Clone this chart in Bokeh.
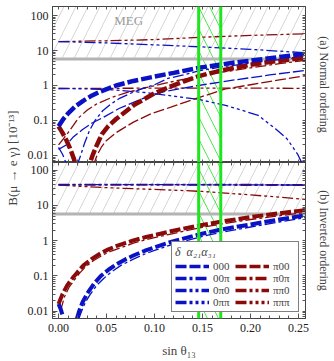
from math import pi
from bokeh.plotting import figure
from bokeh.layouts import row, column
from bokeh.models import (FixedTicker, CustomJSTickFormatter, LogAxis, LinearAxis,
                          BoxAnnotation, Span, Label, Legend, LegendItem, Range1d)
from bokeh.embed import file_html
from bokeh.resources import INLINE

# ---------------- data ----------------
x_ticks = [0.0, 0.05, 0.10, 0.15, 0.20, 0.25]
y_ticks = [0.01, 0.1, 1, 10, 100]
meg_bound = 5.7                 # MEG upper limit, 10^-13
s13_band = [0.146, 0.169]       # allowed sin(theta13) band

# Panel (a): normal ordering
a_000_x = [0.0, 0.005, 0.01, 0.018, 0.026, 0.035, 0.044, 0.06, 0.078, 0.1, 0.12, 0.146, 0.18, 0.22, 0.257]
a_000_y = [0.068, 0.11, 0.16, 0.26, 0.37, 0.52, 0.68, 1.0, 1.35, 1.8, 2.3, 3.2, 4.4, 6.0, 8.0]
a_p00_x1 = [0.0, 0.004, 0.008, 0.012, 0.016, 0.019]
a_p00_y1 = [0.068, 0.045, 0.028, 0.016, 0.008, 0.004]
a_p00_x2 = [0.03, 0.033, 0.036, 0.04, 0.045, 0.052, 0.06, 0.07, 0.078, 0.09, 0.1, 0.114, 0.13, 0.146, 0.165, 0.181, 0.2, 0.22, 0.257]
a_p00_y2 = [0.003, 0.0065, 0.011, 0.02, 0.04, 0.07, 0.11, 0.18, 0.27, 0.42, 0.6, 0.87, 1.3, 1.85, 2.5, 3.1, 3.9, 4.7, 6.2]
a_00p_x1 = [0.0, 0.004, 0.008]
a_00p_y1 = [0.017, 0.011, 0.006]
a_00p_x2 = [0.019, 0.023, 0.027, 0.032, 0.038, 0.046, 0.055, 0.063, 0.075, 0.0875, 0.1, 0.114, 0.13, 0.146, 0.17, 0.2, 0.23, 0.257]
a_00p_y2 = [0.005, 0.01, 0.022, 0.05, 0.1, 0.19, 0.3, 0.42, 0.6, 0.82, 1.05, 1.6, 2.0, 2.6, 3.4, 4.4, 5.5, 6.6]
a_p0p_x = [0.0, 0.005, 0.01, 0.015, 0.021, 0.03, 0.04, 0.055, 0.07, 0.09, 0.11, 0.13, 0.146, 0.17, 0.2, 0.23, 0.257]
a_p0p_y = [0.02, 0.03, 0.045, 0.07, 0.12, 0.2, 0.3, 0.45, 0.62, 0.85, 1.15, 1.5, 1.8, 2.4, 3.2, 4.2, 5.2]
a_0p0_x = [0.0, 0.05, 0.1, 0.146, 0.2, 0.257]
a_0p0_y = [18, 16.5, 14.5, 12.8, 10.8, 8.6]
a_pp0_x = [0.0, 0.05, 0.1, 0.15, 0.2, 0.257]
a_pp0_y = [18, 19, 20.5, 24, 27, 30]
a_0pp_x = [0.0, 0.03, 0.06, 0.09, 0.114, 0.146, 0.174, 0.19, 0.208, 0.226, 0.238, 0.249, 0.255]
a_0pp_y = [0.82, 0.8, 0.74, 0.63, 0.52, 0.4, 0.27, 0.2, 0.14, 0.058, 0.03, 0.011, 0.005]
a_ppp_x = [0.0, 0.1, 0.2, 0.257]
a_ppp_y = [0.82, 0.84, 0.84, 0.83]
a_blue2_x = [0.0, 0.008, 0.015, 0.025, 0.035, 0.046, 0.063, 0.0875, 0.111, 0.146, 0.18, 0.22, 0.257]
a_blue2_y = [0.015, 0.02, 0.033, 0.055, 0.085, 0.12, 0.22, 0.42, 0.68, 1.0, 1.4, 2.0, 2.7]
a_red2_x = [0.036, 0.04, 0.045, 0.05, 0.06, 0.078, 0.095, 0.117, 0.146, 0.174, 0.2, 0.23, 0.257]
a_red2_y = [0.005, 0.01, 0.018, 0.027, 0.045, 0.09, 0.15, 0.24, 0.45, 0.8, 1.05, 1.45, 1.9]

# Panel (b): inverted ordering
b_000_x1 = [0.0, 0.002, 0.004]
b_000_y1 = [0.016, 0.012, 0.008]
b_000_x2 = [0.019, 0.0215, 0.025, 0.03, 0.037, 0.044, 0.052, 0.06, 0.07, 0.078, 0.09, 0.1, 0.117, 0.13, 0.146, 0.17, 0.2, 0.23, 0.257]
b_000_y2 = [0.006, 0.01, 0.018, 0.032, 0.06, 0.1, 0.15, 0.21, 0.3, 0.38, 0.52, 0.65, 0.92, 1.15, 1.5, 2.1, 2.9, 4.0, 5.3]
b_p00_x = [0.0, 0.004, 0.009, 0.015, 0.02, 0.026, 0.035, 0.044, 0.052, 0.06, 0.07, 0.078, 0.09, 0.1, 0.117, 0.13, 0.146, 0.17, 0.2, 0.23, 0.257]
b_p00_y = [0.016, 0.03, 0.054, 0.09, 0.13, 0.2, 0.31, 0.44, 0.57, 0.7, 0.87, 1.02, 1.25, 1.45, 1.85, 2.2, 2.7, 3.5, 4.7, 6.0, 7.4]
b_00p_x = [0.021, 0.024, 0.028, 0.033, 0.04, 0.047, 0.055, 0.065, 0.078, 0.09, 0.1, 0.117, 0.13, 0.146, 0.17, 0.2, 0.23, 0.257]
b_00p_y = [0.006, 0.01, 0.018, 0.03, 0.055, 0.085, 0.13, 0.2, 0.3, 0.42, 0.53, 0.76, 0.96, 1.25, 1.75, 2.45, 3.4, 4.5]
b_p0p_x = [0.002, 0.006, 0.011, 0.017, 0.022, 0.028, 0.037, 0.046, 0.055, 0.065, 0.078, 0.09, 0.1, 0.117, 0.13, 0.146, 0.17, 0.2, 0.23, 0.257]
b_p0p_y = [0.01, 0.025, 0.048, 0.08, 0.12, 0.18, 0.28, 0.39, 0.51, 0.64, 0.85, 1.05, 1.22, 1.55, 1.85, 2.3, 3.0, 4.0, 5.1, 6.3]
b_0p0_x = [0.0, 0.1, 0.2, 0.257]
b_0p0_y = [40, 40, 39.5, 39]
b_pp0_x = [0.0, 0.1, 0.2, 0.257]
b_pp0_y = [38, 38, 37.5, 37]
b_0pp_x = [0.0, 0.1, 0.2, 0.257]
b_0pp_y = [39, 39, 38.5, 38]
b_ppp_x = [0.0, 0.022, 0.05, 0.1, 0.13, 0.15, 0.2, 0.257]
b_ppp_y = [38, 35, 32, 28.5, 26.5, 25, 20, 15]

legend_labels = ["000", "00π", "0π0", "0ππ", "π00", "π0π", "ππ0", "πππ"]
legend_title = "δ  α₂₁α₃₁"
meg_text, meg_x, meg_y = "MEG", 0.073, 72

# ---------------- styling ----------------
BLUE = "#0a12c4"
RED = "#8a0a0a"
GREEN = "#1ee61e"
FRAME = "#444444"
FONT = "Liberation Serif"
D1 = "11 3"
D2 = "11 3 3 3"
D3 = "11 3 3 3 3 3"
D4 = "11 3 3 3 3 3 3 3"
THICK, THIN = 4.5, 1.3

LBL_W = 24
W = 334 - LBL_W
HA = 162
HB = 198
xr = Range1d(-0.0063, 0.2573)

y_minor = [k * 10.0 ** e for e in range(-3, 3) for k in range(2, 10)]
x_minor = [i * 0.01 for i in range(0, 27)]
ytick = FixedTicker(ticks=y_ticks, minor_ticks=y_minor)
xtick = FixedTicker(ticks=x_ticks, minor_ticks=x_minor)
ytick_bare = FixedTicker(ticks=[], minor_ticks=y_minor + y_ticks)
xtick_bare = FixedTicker(ticks=[], minor_ticks=x_minor)
yfmt = CustomJSTickFormatter(code="return tick.toString()")
xfmt = CustomJSTickFormatter(code="return tick.toFixed(2)")


def style_axis(ax):
    ax.axis_line_color = FRAME
    ax.major_tick_in = 5
    ax.major_tick_out = 0
    ax.minor_tick_in = 3
    ax.minor_tick_out = 0
    ax.major_tick_line_color = "#555555"
    ax.minor_tick_line_color = "#555555"
    ax.major_label_text_font = FONT
    ax.major_label_text_font_size = "12px"
    ax.major_label_text_color = "#222222"
    ax.major_label_standoff = 5


def bare_axis(ax):
    style_axis(ax)
    ax.major_label_standoff = 0
    ax.minor_tick_in = 3


def make_panel(h, yr, is_bottom, side_text):
    p = figure(width=W, height=h, x_range=xr, y_range=yr, y_axis_type="log",
               toolbar_location=None, output_backend="svg",
               x_axis_location=None, min_border_left=28, min_border_right=29,
               min_border_top=(0 if is_bottom else 6),
               min_border_bottom=(42 if is_bottom else 0))
    p.grid.visible = False
    p.outline_line_color = FRAME
    p.yaxis.ticker = ytick
    p.yaxis.formatter = yfmt
    style_axis(p.yaxis[0])
    p.yaxis[0].major_label_standoff = 4
    # right axis: ticks and panel label
    ra = LogAxis(ticker=ytick_bare, axis_label=side_text)
    bare_axis(ra)
    ra.axis_label_text_font = FONT
    ra.axis_label_text_font_size = "12px"
    ra.axis_label_text_font_style = "normal"
    ra.axis_label_standoff = 11
    p.add_layout(ra, "right")
    top = LinearAxis(ticker=xtick_bare)
    bare_axis(top)
    p.add_layout(top, "above")
    if is_bottom:
        bot = LinearAxis(ticker=xtick, formatter=xfmt)
        style_axis(bot)
        bot.axis_label = "sin θ₁₃"
        bot.axis_label_text_font = FONT
        bot.axis_label_text_font_size = "13px"
        bot.axis_label_text_font_style = "normal"
        bot.axis_label_standoff = 8
    else:
        bot = LinearAxis(ticker=xtick_bare)
        bare_axis(bot)
    p.add_layout(bot, "below")
    # MEG excluded region and theta13 band
    p.add_layout(BoxAnnotation(bottom=meg_bound, fill_alpha=0, line_alpha=0,
                               hatch_pattern="/", hatch_color="#cccccc",
                               hatch_weight=0.8, hatch_scale=24, level="underlay"))
    p.add_layout(BoxAnnotation(left=s13_band[0], right=s13_band[1], fill_alpha=0,
                               line_alpha=0, hatch_pattern="\\", hatch_color=GREEN,
                               hatch_weight=0.8, hatch_scale=22, level="underlay"))
    p.add_layout(Span(location=meg_bound, dimension="width", line_color="#b4b4b4",
                      line_width=3, level="underlay"))
    return p


def draw(p, xs, ys, color, dash, width):
    return p.line(xs, ys, line_color=color, line_dash=dash, line_width=width)


pa = make_panel(HA, Range1d(0.0063, 181), False, "(a) Normal ordering")
pb = make_panel(HB, Range1d(0.0062, 166), True, "(b) Inverted ordering")

# panel (a)
draw(pa, a_pp0_x, a_pp0_y, RED, D3, THIN)
draw(pa, a_0p0_x, a_0p0_y, BLUE, D3, THIN)
draw(pa, a_ppp_x, a_ppp_y, RED, D4, THIN)
draw(pa, a_0pp_x, a_0pp_y, BLUE, D4, THIN)
draw(pa, a_red2_x, a_red2_y, RED, D1, THIN)
draw(pa, a_blue2_x, a_blue2_y, BLUE, D1, THIN)
draw(pa, a_p0p_x, a_p0p_y, RED, D2, THIN)
draw(pa, a_00p_x1, a_00p_y1, BLUE, D2, THIN)
draw(pa, a_00p_x2, a_00p_y2, BLUE, D2, THIN)
draw(pa, a_p00_x1, a_p00_y1, RED, D1, THICK)
draw(pa, a_p00_x2, a_p00_y2, RED, D1, THICK)
draw(pa, a_000_x, a_000_y, BLUE, D1, THICK)

# panel (b)
draw(pb, b_pp0_x, b_pp0_y, RED, D3, THIN)
draw(pb, b_ppp_x, b_ppp_y, RED, D4, THIN)
draw(pb, b_0pp_x, b_0pp_y, BLUE, D4, THIN)
draw(pb, b_0p0_x, b_0p0_y, BLUE, D3, THIN)
draw(pb, b_p0p_x, b_p0p_y, RED, D2, THIN)
draw(pb, b_00p_x, b_00p_y, BLUE, D2, THIN)
draw(pb, b_p00_x, b_p00_y, RED, D1, THICK - 0.5)
draw(pb, b_000_x1, b_000_y1, BLUE, D1, THICK - 0.5)
draw(pb, b_000_x2, b_000_y2, BLUE, D1, THICK - 0.5)

for p in (pa, pb):
    for loc in s13_band:
        p.add_layout(Span(location=loc, dimension="height", line_color=GREEN, line_width=3))

pa.add_layout(Label(x=meg_x, y=meg_y, text=meg_text, text_color="#9a9a9a",
                    text_font=FONT, text_font_size="13px",
                    text_align="center", text_baseline="middle"))

# legend: single-point proxies (invisible as lines) carrying the legend styles
proxy_src = [(b_000_x2, b_000_y2), (b_00p_x, b_00p_y), (b_0p0_x, b_0p0_y), (b_0pp_x, b_0pp_y),
             (b_p00_x, b_p00_y), (b_p0p_x, b_p0p_y), (b_pp0_x, b_pp0_y), (b_ppp_x, b_ppp_y)]
styles = [(BLUE, D1), (BLUE, D2), (BLUE, D3), (BLUE, D4),
          (RED, D1), (RED, D2), (RED, D3), (RED, D4)]
items = []
for lab_txt, (c, d), (xs, ys) in zip(legend_labels, styles, proxy_src):
    r = pb.line(xs[-1:], ys[-1:], line_color=c, line_dash=d, line_width=3.5)
    items.append(LegendItem(label=lab_txt, renderers=[r]))
leg = Legend(items=items, location="bottom_right", ncols=2, title=legend_title,
             label_text_font=FONT, label_text_font_size="11px",
             title_text_font=FONT, title_text_font_size="12px",
             title_text_font_style="italic", glyph_width=34, glyph_height=10,
             label_height=10, label_width=22, label_standoff=4, spacing=0,
             padding=3, margin=6, title_standoff=0, border_line_color="black",
             border_line_width=1, background_fill_alpha=1)
pb.add_layout(leg)

# left label spanning both panels
lab = figure(width=LBL_W, height=HA + HB, x_range=(0, 1), y_range=(0, 1),
             toolbar_location=None, output_backend="svg",
             x_axis_location=None, y_axis_location=None, min_border=0)
lab.grid.visible = False
lab.outline_line_color = None
lab.add_layout(Label(x=0.5, y=1 - 156 / (HA + HB), text="B(μ → e γ)  [10⁻¹³]", angle=pi / 2,
                     text_align="center", text_baseline="middle",
                     text_font=FONT, text_font_size="13px"))

layout = row(lab, column(pa, pb))
open("out.html", "w").write(file_html(layout, INLINE))
